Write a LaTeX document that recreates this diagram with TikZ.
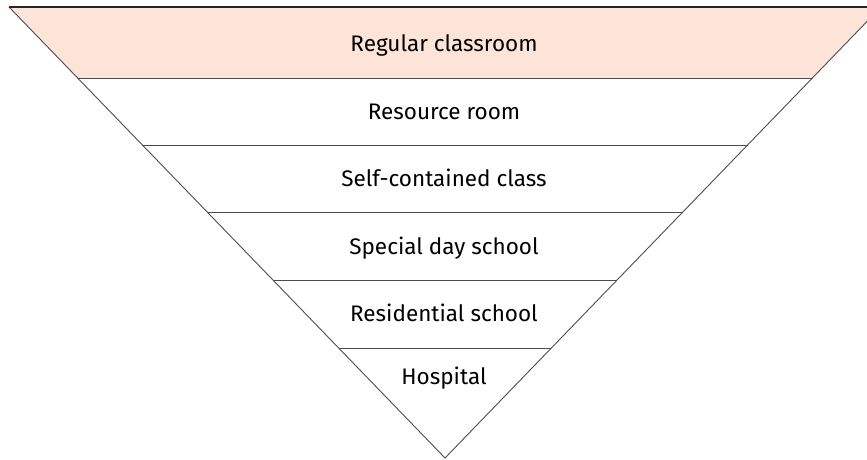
\documentclass[tikz,border=0pt]{standalone}
\usepackage{fontspec}
\setmainfont{Fira Sans}
\usetikzlibrary{calc}
\definecolor{peach}{RGB}{252,229,216}
\begin{document}
\begin{tikzpicture}[x=1pt,y=-1pt,
  divider/.style={draw=black!70, line width=0.9pt},
  lbl/.style={font=\fontsize{22.5}{26}\selectfont, text=black, anchor=base, inner sep=0pt}]
\useasboundingbox (0,0) rectangle (867,459);
\coordinate (TL) at (9,7);
\coordinate (TR) at (881,7);
\coordinate (A) at (445,458);
\foreach \n/\t in {1/0.1574,2/0.3060,3/0.4545,4/0.6053,5/0.7561}{
  \coordinate (L\n) at ($(TL)!\t!(A)$);
  \coordinate (R\n) at ($(TR)!\t!(A)$);
}
\fill[peach] (TL) -- (TR) -- (R1) -- (L1) -- cycle;
\draw[divider] (TL) -- (A) -- (TR);
\draw[black!85, line width=1.6pt] (TL) -- (TR);
\foreach \n in {1,...,5}{\draw[divider] (L\n) -- (R\n);}
\node[lbl] (n1) at (444,51) {Regular classroom};
\node[lbl] (n2) at (444,119) {Resource room};
\node[lbl] (n3) at (444,186) {Self-contained class};
\node[lbl] (n4) at (444,254) {Special day school};
\node[lbl] (n5) at (444,321) {Residential school};
\node[lbl] (n6) at (444,384) {Hospital};
\end{tikzpicture}
\end{document}
